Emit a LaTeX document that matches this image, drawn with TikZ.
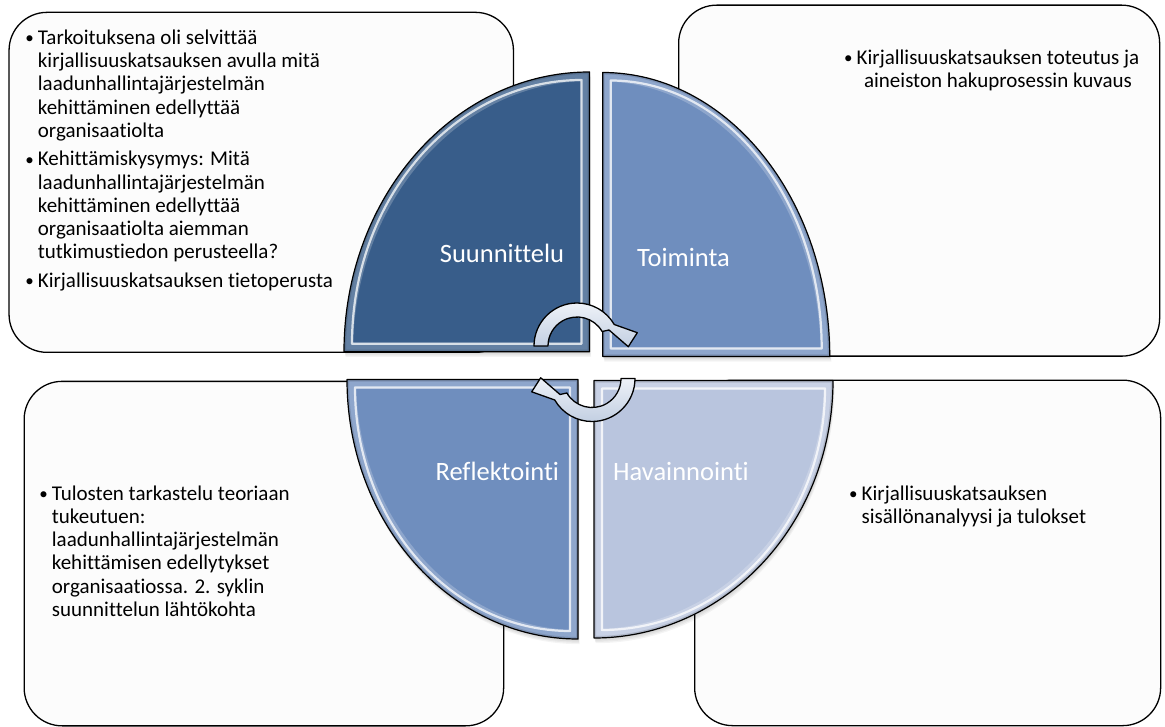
\documentclass[tikz,border=0pt]{standalone}
\usepackage{fontspec}
\setmainfont{Carlito}[Ligatures={NoCommon,NoRequired,NoContextual}]
\usetikzlibrary{calc}

\definecolor{planblue}{RGB}{56,93,138}
\definecolor{actblue}{RGB}{111,142,190}
\definecolor{reflblue}{RGB}{111,142,190}
\definecolor{obsblue}{RGB}{185,197,222}
\definecolor{arrowtop}{RGB}{238,242,248}
\definecolor{arrowbot}{RGB}{194,207,226}
\definecolor{boxfill}{RGB}{252,252,252}

% bullet hanging to the left of the text start
\newcommand\blt{\leavevmode\llap{\makebox[16.8pt][c]{\raisebox{0.9pt}{\fontsize{17}{17}\selectfont •}}}}

% one quarter of the cycle: #1,#2 corner; #3 start angle; #4,#5 radii;
% #6,#7 inward offset of the highlight; #8 fill colour
\newcommand\phase[8]{%
  \foreach \k in {1,...,4}{%
    \fill[black, opacity=0.045, shift={(0.4*\k,1.3*\k)}]
      (#1,#2) -- ++(#3:#4pt and #5pt)
      arc[start angle=#3, delta angle=90, x radius=#4pt, y radius=#5pt] -- cycle;}
  \begin{scope}
    \clip (#1,#2) -- ++(#3:#4pt and #5pt)
      arc[start angle=#3, delta angle=90, x radius=#4pt, y radius=#5pt] -- cycle;
    \fill[#8] (#1,#2) -- ++(#3:#4pt and #5pt)
      arc[start angle=#3, delta angle=90, x radius=#4pt, y radius=#5pt] -- cycle;
    \draw[white, opacity=0.22, line width=18pt] (#1,#2) -- ++(#3:#4pt and #5pt)
      arc[start angle=#3, delta angle=90, x radius=#4pt, y radius=#5pt] -- cycle;
    \draw[black, opacity=0.12, line width=4pt] (#1,#2) -- ++(#3:#4pt and #5pt)
      arc[start angle=#3, delta angle=90, x radius=#4pt, y radius=#5pt] -- cycle;
    \draw[white, opacity=0.75, line width=2.2pt, line join=round]
      (#1+#6,#2+#7) -- ++(#3:#4pt-16pt and #5pt-16pt)
      arc[start angle=#3, delta angle=90, x radius=#4pt-16pt, y radius=#5pt-16pt] -- cycle;
  \end{scope}
  \draw[black, line width=1.2pt, line join=round] (#1,#2) -- ++(#3:#4pt and #5pt)
    arc[start angle=#3, delta angle=90, x radius=#4pt, y radius=#5pt] -- cycle;
}

\tikzset{
  infobox/.style={draw=black, line width=1.3pt, fill=boxfill, rounded corners=38pt,
    inner sep=0pt, anchor=north west},
  bodytext/.style={anchor=base west, inner sep=0pt, font=\fontsize{21}{23.2}\selectfont},
  phaselabel/.style={text=white, inner sep=0pt, font=\fontsize{26.5}{30}\selectfont},
  cyclearrow/.style={draw=black, line width=1.3pt, line join=round,
    top color=arrowtop, bottom color=arrowbot},
}

\begin{document}
\begin{tikzpicture}[x=1pt, y=-1pt]
\useasboundingbox (0,0) rectangle (1165,727);
\fill[white] (0,0) rectangle (1165,727);

% text boxes in the four corners
\node[infobox, minimum width=504.4pt, minimum height=340pt] (planbox) at (8.4,11.7) {};
\node[infobox, minimum width=481pt, minimum height=351pt] (actbox) at (678,4.5) {};
\node[infobox, minimum width=479.5pt, minimum height=344.5pt] (reflbox) at (23.5,380.7) {};
\node[infobox, minimum width=466pt, minimum height=345.5pt] (obsbox) at (694,379.5) {};

% box texts
\node[bodytext] (plantext) at (37.7,44.5) {\parbox[t]{330pt}{\setlength{\parskip}{5.5pt}\raggedright
\blt Tarkoituksena oli selvittää\\
kirjallisuuskatsauksen avulla mitä\\
laadunhallintajärjestelmän\\
kehittäminen edellyttää\\
organisaatiolta\par
\blt Kehittämiskysymys: Mitä\\
laadunhallintajärjestelmän\\
kehittäminen edellyttää\\
organisaatiolta aiemman\\
tutkimustiedon perusteella?\par
\blt Kirjallisuuskatsauksen tietoperusta}};

\node[bodytext, anchor=base] (acttext) at (998,64.5) {\parbox[t]{320pt}{\centering
\blt Kirjallisuuskatsauksen toteutus ja\\
aineiston hakuprosessin kuvaus}};

\node[bodytext] (refltext) at (51.7,500.3) {\parbox[t]{300pt}{\raggedright
\blt Tulosten tarkastelu teoriaan\\
tukeutuen:\\
laadunhallintajärjestelmän\\
kehittämisen edellytykset\\
organisaatiossa. 2. syklin\\
suunnittelun lähtökohta}};

\node[bodytext] (obstext) at (861.5,500.3) {\parbox[t]{280pt}{\raggedright
\blt Kirjallisuuskatsauksen\\
sisällönanalyysi ja tulokset}};

% the four quarters of the cycle
\phase{589.5}{351.7}{90}{245.5}{279.7}{-8}{-8}{planblue}
\phase{602.7}{356.5}{0}{227}{284}{8}{-8}{actblue}
\phase{578}{379.5}{180}{231}{259.5}{-8}{8}{reflblue}
\phase{594}{380.5}{270}{239}{257.5}{8}{8}{obsblue}

\node[phaselabel] (plan) at (502,253.3) {Suunnittelu};
\node[phaselabel] (act) at (683.5,257.3) {Toiminta};
\node[phaselabel] (refl) at (497.3,471.7) {Reflektointi};
\node[phaselabel] (obs) at (681,471.7) {Havainnointi};

% circular arrows in the middle
\coordinate (cwtop) at (577,346);
\coordinate (cwbot) at (592,378.5);
\path[cyclearrow] ($(cwtop)+(180:43pt)$) arc[start angle=180, end angle=30, radius=43pt]
  -- ($(cwtop)+(60.3,-13.3)$) -- ($(cwtop)+(51.3,0.7)$) -- ($(cwtop)+(32,-16)$)
  -- ($(cwtop)+(30:29pt)$) arc[start angle=30, end angle=180, radius=29pt] -- cycle;
\path[cyclearrow] ($(cwbot)+(0:43pt)$) arc[start angle=0, end angle=-150, radius=43pt]
  -- ($(cwbot)+(-60.3,13.3)$) -- ($(cwbot)+(-51.3,-0.7)$) -- ($(cwbot)+(-32,16)$)
  -- ($(cwbot)+(-150:29pt)$) arc[start angle=-150, end angle=0, radius=29pt] -- cycle;
\end{tikzpicture}
\end{document}
